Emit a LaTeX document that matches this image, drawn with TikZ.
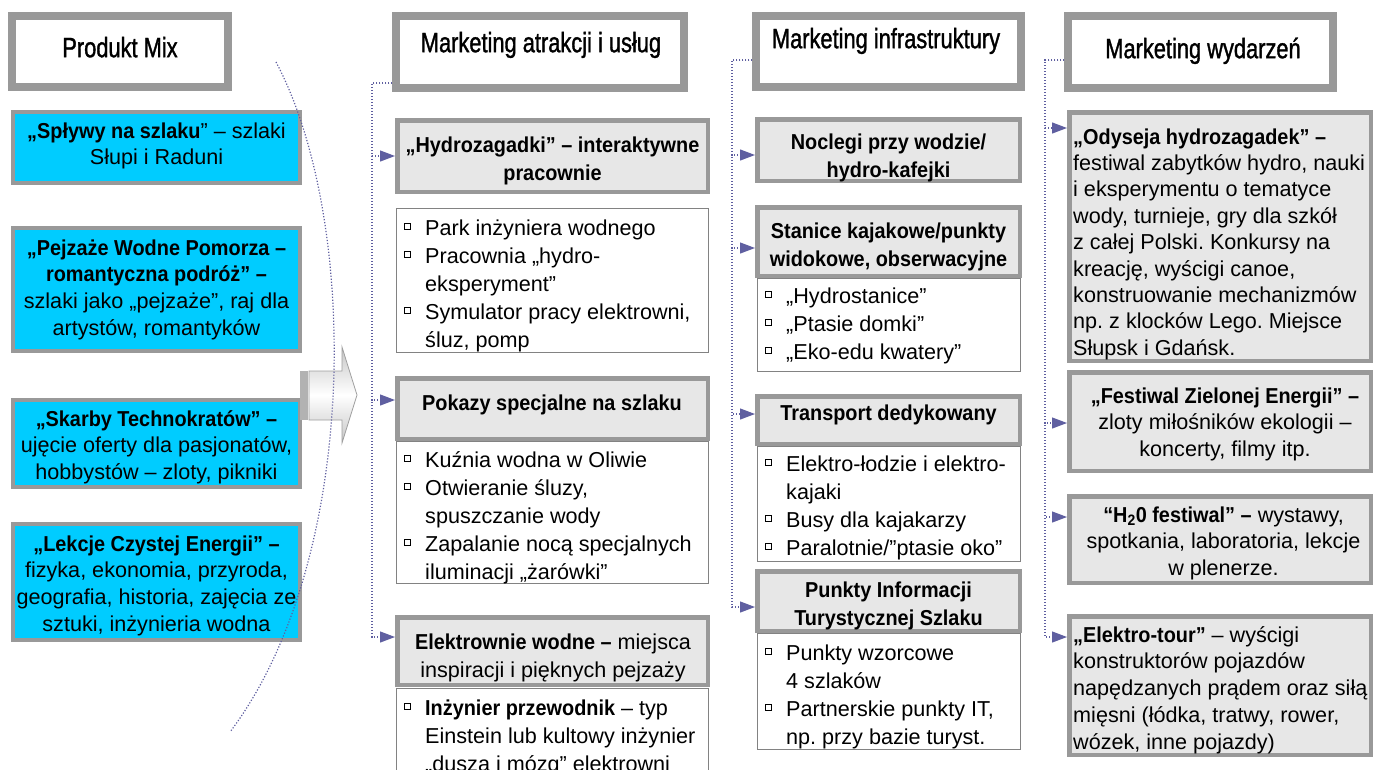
\documentclass[tikz,border=0pt]{standalone}
\usepackage{fontspec}
\setmainfont{Liberation Sans}[BoldFeatures={FakeStretch=0.92}]
\newfontfamily\hdrfam{Liberation Sans}[FakeStretch=0.78,FakeBold=1.2]
\usetikzlibrary{arrows.meta}
\definecolor{bgray}{RGB}{153,153,153}
\definecolor{tfill}{RGB}{231,231,231}
\definecolor{cyanf}{RGB}{0,204,255}
\definecolor{connc}{RGB}{95,95,160}
\definecolor{lgray}{RGB}{130,130,130}
\newcommand\fA{\fontsize{21.6}{27.8}\selectfont}
\newcommand\fB{\fontsize{21.6}{26.8}\selectfont}
\newcommand\fC{\fontsize{21.6}{26.4}\selectfont}
\newcommand\fH{\hdrfam\fontsize{28}{34}\selectfont}
\newcommand\sq{\makebox[21pt][l]{\raisebox{6.5pt}{\setlength\fboxsep{0pt}\setlength\fboxrule{1pt}\fbox{\rule{0pt}{5pt}\rule{5pt}{0pt}}}}}
\newcommand\ind{\hspace*{21pt}}
\newcommand\bx[7]{\node[#1, line width=#7pt, minimum width={#5-#3-#7}, minimum height={#6-#4-#7}, inner sep=0pt] (#2) at ({(#3+#5)/2},{(#4+#6)/2}) {};}
\tikzset{
  hdr/.style={draw=bgray, fill=white},
  cyanbox/.style={draw=bgray, fill=cyanf},
  titlebox/.style={draw=bgray, fill=tfill},
  listbox/.style={draw=lgray, fill=white},
  tA/.style={anchor=north, yshift=11.8pt, inner sep=0pt, align=center, font=\fA},
  tAl/.style={tA, anchor=north west, align=left},
  tB/.style={anchor=north, yshift=10.9pt, inner sep=0pt, align=center, font=\fB},
  tBl/.style={tB, anchor=north west, align=left},
  tH/.style={anchor=north, yshift=13.8pt, inner sep=0pt, font=\fH},
  conn/.style={draw=connc, line width=1.2pt, dash pattern=on 1.2pt off 1.8pt},
  arr/.style={-{Triangle[length=15pt,width=11pt]}},
}
\begin{document}
\frenchspacing
\begin{tikzpicture}[x=1pt,y=-1pt]
\useasboundingbox (0,0) rectangle (1373,769);
\clip (0,0) rectangle (1373,769);
% ---------- headers
\bx{hdr}{h1}{8}{12}{232}{91}{8}
\bx{hdr}{h2}{392}{12}{688}{92}{8}
\bx{hdr}{h3}{752}{12}{1025}{91}{8}
\bx{hdr}{h4}{1064}{12}{1337}{92}{8}
\node[tH] (h1t) at (120,47) {\strut Produkt Mix};
\node[tH] (h2t) at (541,42) {\strut Marketing atrakcji i usług};
\node[tH] (h3t) at (886,38) {\strut Marketing infrastruktury};
\node[tH] (h4t) at (1203,48) {\strut Marketing wydarzeń};
% ---------- column 1
\bx{cyanbox}{c1}{11}{110}{302}{185}{4}
\bx{cyanbox}{c2}{11}{226}{302}{353}{4}
\bx{cyanbox}{c3}{11}{398}{302}{489}{4}
\bx{cyanbox}{c4}{11}{522}{302}{642}{4}
\node[tB] (c1t) at (156.5,130) {\strut\textbf{„Spływy na szlaku}” – szlaki\\ Słupi i Raduni};
\node[tB] (c2t) at (156.5,247) {\strut\textbf{„Pejzaże Wodne Pomorza –}\\ \textbf{romantyczna podróż” –}\\ szlaki jako „pejzaże”, raj dla\\ artystów, romantyków};
\node[tB] (c3t) at (156.5,418) {\strut\textbf{„Skarby Technokratów” –}\\ ujęcie oferty dla pasjonatów,\\ hobbystów – zloty, pikniki};
\node[tB] (c4t) at (156.5,543) {\strut\textbf{„Lekcje Czystej Energii” –}\\ fizyka, ekonomia, przyroda,\\ geografia, historia, zajęcia ze\\ sztuki, inżynieria wodna};
% ---------- block arrow
\fill[gray!60] (300,371) rectangle (308,420);
\draw[gray!75, line width=0.8pt, top color=gray!45, bottom color=gray!45, middle color=white]
  (309,371) -- (342,371) -- (342,347) -- (357,395) -- (342,443) -- (342,420) -- (309,420) -- cycle;
% ---------- column 2
\bx{listbox}{l1}{396}{208}{709}{353}{1.3}
\bx{listbox}{l2}{396}{441}{709}{584}{1.3}
\bx{listbox}{l3}{396}{688}{709}{800}{1.3}
\bx{titlebox}{a1}{395}{118}{710}{194}{4.5}
\bx{titlebox}{a2}{395}{376}{710}{441}{4.5}
\bx{titlebox}{a3}{395}{615}{710}{687}{4.5}
\node[tA] (a1t) at (552.5,145) {\strut\textbf{„Hydrozagadki” – interaktywne}\\ \textbf{pracownie}};
\node[tA] (a2t) at (552,403) {\strut\textbf{Pokazy specjalne na szlaku}};
\node[tA] (a3t) at (553,642) {\strut\textbf{Elektrownie wodne –} miejsca\\ inspiracji i pięknych pejzaży};
\node[tAl] (l1t) at (404,228) {\strut\sq Park inżyniera wodnego\\ \sq Pracownia „hydro-\\ \ind eksperyment”\\ \sq Symulator pracy elektrowni,\\ \ind śluz, pomp};
\node[tAl] (l2t) at (404,460) {\strut\sq Kuźnia wodna w Oliwie\\ \sq Otwieranie śluzy,\\ \ind spuszczanie wody\\ \sq Zapalanie nocą specjalnych\\ \ind iluminacji „żarówki”};
\node[tAl] (l3t) at (404,708) {\strut\sq \textbf{Inżynier przewodnik} – typ\\ \ind Einstein lub kultowy inżynier\\ \ind „dusza i mózg” elektrowni};
% ---------- column 3
\bx{listbox}{m1}{757}{278}{1021}{372}{1.3}
\bx{listbox}{m2}{757}{446}{1021}{562}{1.3}
\bx{listbox}{m3}{757}{633}{1021}{750}{1.3}
\bx{titlebox}{b1}{755}{117}{1022}{183}{4.5}
\bx{titlebox}{b2}{755}{205}{1022}{278}{4.5}
\bx{titlebox}{b3}{755}{394}{1022}{446}{4.5}
\bx{titlebox}{b4}{755}{569}{1022}{633}{4.5}
\node[tA] (b1t) at (888.5,142) {\strut\textbf{Noclegi przy wodzie/}\\ \textbf{hydro-kafejki}};
\node[tA] (b2t) at (888.5,231) {\strut\textbf{Stanice kajakowe/punkty}\\ \textbf{widokowe, obserwacyjne}};
\node[tA] (b3t) at (888.5,413) {\strut\textbf{Transport dedykowany}};
\node[tA] (b4t) at (888.5,590) {\strut\textbf{Punkty Informacji}\\ \textbf{Turystycznej Szlaku}};
\node[tAl] (m1t) at (765,296) {\strut\sq „Hydrostanice”\\ \sq „Ptasie domki”\\ \sq „Eko-edu kwatery”};
\node[tAl] (m2t) at (765,464) {\strut\sq Elektro-łodzie i elektro-\\ \ind kajaki\\ \sq Busy dla kajakarzy\\ \sq Paralotnie/”ptasie oko”};
\node[tAl] (m3t) at (765,653) {\strut\sq Punkty wzorcowe\\ \ind 4 szlaków\\ \sq Partnerskie punkty IT,\\ \ind np. przy bazie turyst.};
% ---------- column 4
\bx{titlebox}{d1}{1067}{110}{1373}{363}{4.5}
\bx{titlebox}{d2}{1067}{370}{1373}{473}{4.5}
\bx{titlebox}{d3}{1067}{494}{1373}{585}{4.5}
\bx{titlebox}{d4}{1067}{614}{1373}{757}{4.5}
\node[tBl, font=\fC, yshift=-0.4pt] (d1t) at (1073,136) {\strut\textbf{„Odyseja hydrozagadek” –}\\ festiwal zabytków hydro, nauki\\ i eksperymentu o tematyce\\ wody, turnieje, gry dla szkół\\ z całej Polski. Konkursy na\\ kreację, wyścigi canoe,\\ konstruowanie mechanizmów\\ np. z klocków Lego. Miejsce\\ Słupsk i Gdańsk.};
\node[tB] (d2t) at (1225,395) {\strut\textbf{„Festiwal Zielonej Energii” –}\\ zloty miłośników ekologii –\\ koncerty, filmy itp.};
\node[tB] (d3t) at (1223.5,514) {\strut\textbf{“H\textsubscript{2}0 festiwal” –} wystawy,\\ spotkania, laboratoria, lekcje\\ w plenerze.};
\node[tBl] (d4t) at (1073,634) {\strut\textbf{„Elektro-tour”} – wyścigi\\ konstruktorów pojazdów\\ napędzanych prądem oraz siłą\\ mięsni (łódka, tratwy, rower,\\ wózek, inne pojazdy)};
% ---------- connectors
\coordinate (k2) at (372,83);
\coordinate (k3) at (732,60);
\coordinate (k4) at (1045,60);
\draw[conn,arr] (h2.west |- k2) -- (k2) |- (a1.west);
\draw[conn,arr] (h2.west |- k2) -- (k2) |- ([yshift=8.5pt]a2.west);
\draw[conn,arr] (h2.west |- k2) -- (k2) |- ([yshift=14pt]a3.west);
\draw[conn,arr] (h3.west |- k3) -- (k3) |- ([yshift=-5pt]b1.west);
\draw[conn,arr] (h3.west |- k3) -- (k3) |- ([yshift=-6.5pt]b2.west);
\draw[conn,arr] (h3.west |- k3) -- (k3) |- ([yshift=6pt]b3.west);
\draw[conn,arr] (h3.west |- k3) -- (k3) |- ([yshift=-6pt]b4.west);
\draw[conn,arr] (h4.west |- k4) -- (k4) |- ([yshift=108.5pt]d1.west);
\draw[conn,arr] (h4.west |- k4) -- (k4) |- ([yshift=-1.5pt]d2.west);
\draw[conn,arr] (h4.west |- k4) -- (k4) |- ([yshift=22.5pt]d3.west);
\draw[conn,arr] (h4.west |- k4) -- (k4) |- ([yshift=48.5pt]d4.west);
% ---------- bracket curve
\coordinate (q1) at (276,62);
\coordinate (q2) at (230,732);
\draw[conn] (q1) .. controls (360,220) and (360,560) .. (q2);
\end{tikzpicture}
\end{document}
